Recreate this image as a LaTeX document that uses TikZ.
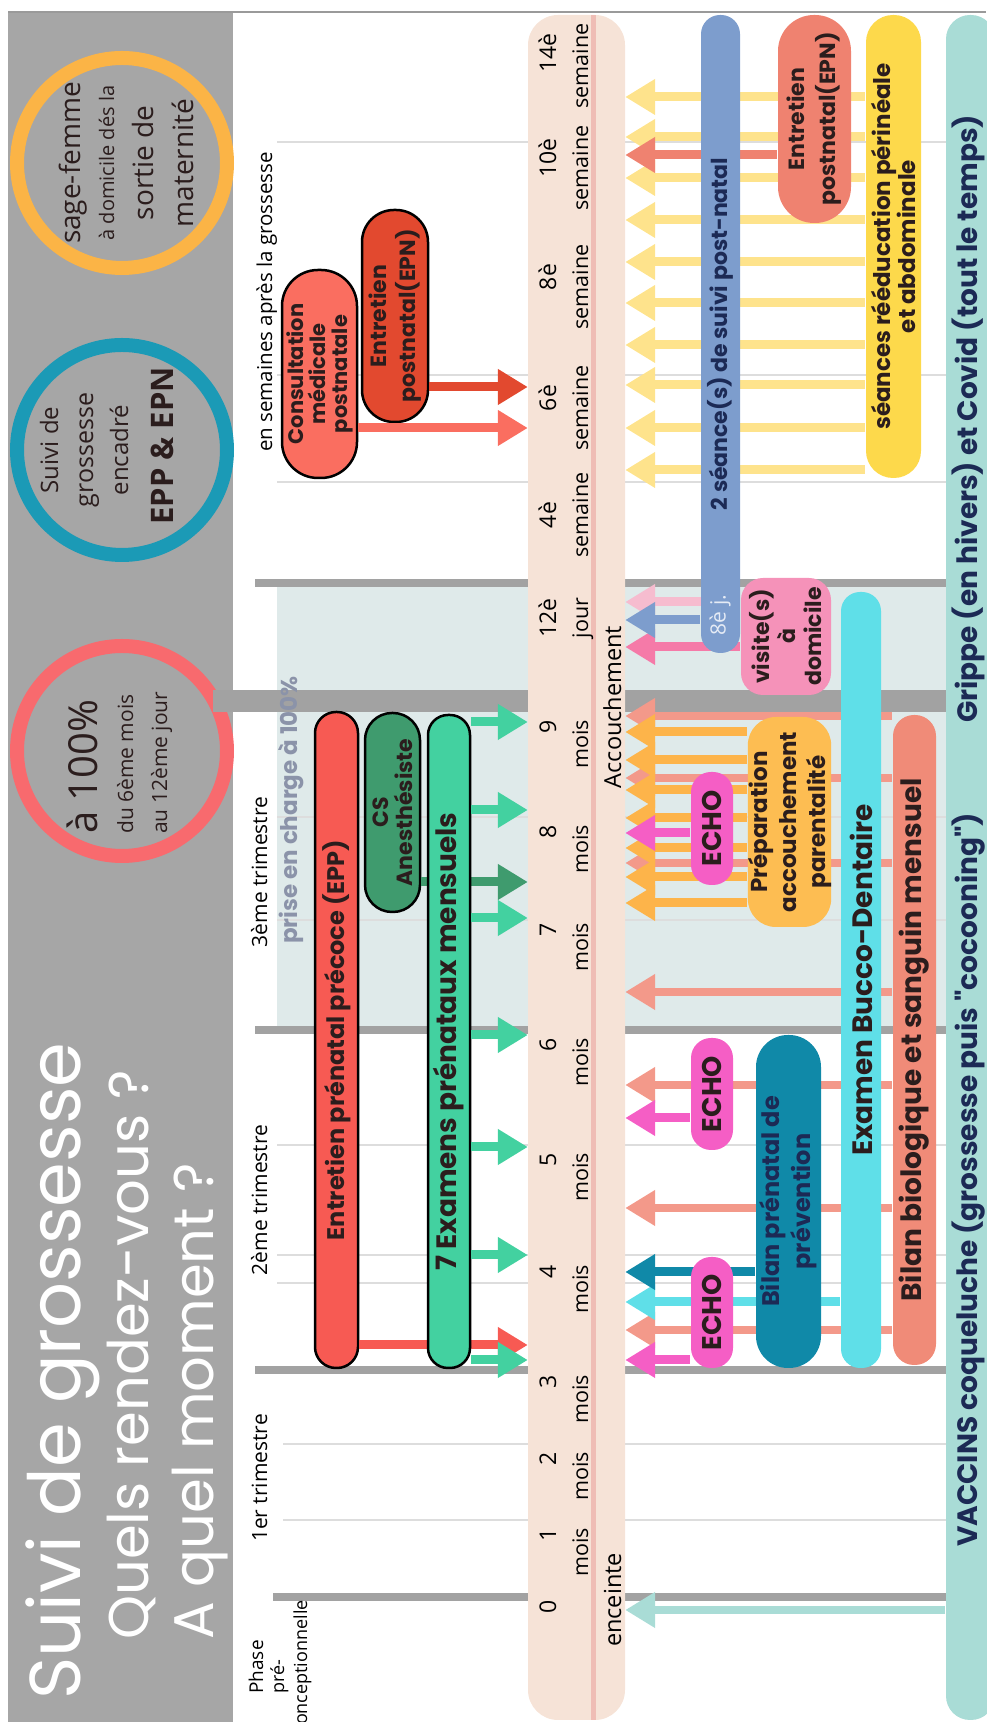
\documentclass[tikz,border=0pt]{standalone}
\usepackage{fontspec}
\setmainfont{Open Sans}
\newfontfamily\popfont{Poppins}
\usetikzlibrary{arrows.meta}

\definecolor{headgrey}{HTML}{A6A6A6}
\definecolor{framegrey}{HTML}{9A9A9A}
\definecolor{gthickc}{HTML}{A2A2A2}
\definecolor{gthinc}{HTML}{DDDDDD}
\definecolor{zonec}{HTML}{DFEAEA}
\definecolor{bandc}{HTML}{F6E3D7}
\definecolor{bandl}{HTML}{EFBDB5}
\definecolor{ringor}{HTML}{FBB446}
\definecolor{ringbl}{HTML}{1B9AB6}
\definecolor{ringrd}{HTML}{F86A6E}
\definecolor{eppc}{HTML}{F75A53}
\definecolor{csc}{HTML}{3F9B6E}
\definecolor{examc}{HTML}{43D1A0}
\definecolor{consc}{HTML}{FA6E60}
\definecolor{epnc}{HTML}{E2492F}
\definecolor{suivic}{HTML}{7D9DCD}
\definecolor{epnbc}{HTML}{EF8270}
\definecolor{reeducc}{HTML}{FDD94B}
\definecolor{reeduca}{HTML}{FEE38C}
\definecolor{visitec}{HTML}{F592B9}
\definecolor{visitea}{HTML}{F6BCCF}
\definecolor{visiteb}{HTML}{F57AA8}
\definecolor{prepc}{HTML}{FDBD52}
\definecolor{prepa}{HTML}{FDB44A}
\definecolor{echoc}{HTML}{F55EC5}
\definecolor{bppc}{HTML}{1089A8}
\definecolor{buccoc}{HTML}{5FDFE8}
\definecolor{bioc}{HTML}{F08B78}
\definecolor{bioa}{HTML}{F3998A}
\definecolor{vaccc}{HTML}{A9DCD6}
\definecolor{ink}{HTML}{2B1D1D}
\definecolor{navy}{HTML}{1C2A55}
\definecolor{pecc}{HTML}{8B93A9}

\tikzset{
  bar/.style={draw=black, line width=2.5pt, inner sep=0pt, align=center, text=ink,
    font=\popfont\bfseries\fontsize{22}{25}\selectfont},
  flatbar/.style={bar, draw=none},
  arr/.style={line width=9pt, -{Triangle[length=30pt,width=34pt]}},
  gthin/.style={draw=gthinc, line width=2pt},
  gthick/.style={draw=gthickc, line width=8pt},
  numlbl/.style={inner sep=0pt, font=\fontsize{23}{23}\selectfont},
  unitlbl/.style={inner sep=0pt, font=\fontsize{21.5}{21.5}\selectfont},
  toplbl/.style={inner sep=0pt, font=\fontsize{21}{21}\selectfont},
  ctxt/.style={inner sep=0pt, text=ink},
  headtxt/.style={inner sep=0pt, text=white, font=\popfont\fontsize{56}{56}\selectfont},
}

\begin{document}
\begin{tikzpicture}[x=1pt, y=1pt, rotate=90, transform shape]
\useasboundingbox (0,0) rectangle (1722,-986);

% zone prise en charge et grille
\fill[zonec] (692,-277) rectangle (1139,-947);
\draw[gthin] (202,-283) -- (202,-947);
\draw[gthin] (278,-283) -- (278,-947);
\draw[gthin] (439,-277) -- (439,-947);
\draw[gthin] (467,-277) -- (467,-947);
\draw[gthin] (577,-277) -- (577,-947);
\draw[gthin] (802,-277) -- (802,-947);
\draw[gthin] (905,-277) -- (905,-947);
\draw[gthin] (1240,-277) -- (1240,-947);
\draw[gthin] (1347,-277) -- (1347,-947);
\draw[gthin] (1580,-277) -- (1580,-947);
\draw[gthick] (125,-273) -- (125,-947);
\draw[gthick] (352,-255) -- (352,-947);
\draw[gthick] (692,-255) -- (692,-947);
\draw[gthick] (1139,-255) -- (1139,-947);

% bandeau du haut
\fill[headgrey] (0,-8) rectangle (1710,-233);
\draw[framegrey, line width=2pt] (1710,-8) -- (1710,-986);
\draw[ringor, line width=14pt] (1559,-122) circle[radius=105pt];
\draw[ringbl, line width=14pt] (1272,-122) circle[radius=105pt];
\draw[ringrd, line width=14pt] (971,-122) circle[radius=105pt];
\draw[gthick, line width=22pt] (1021,-213) -- (1021,-947);

\node[headtxt, anchor=base west, font=\popfont\fontsize{72}{72}\selectfont] (title) at (22,-80) {Suivi de grossesse};
\node[headtxt, anchor=base west] (sub1) at (82,-148) {Quels rendez-vous ?};
\node[headtxt, anchor=base west] (sub2) at (82,-213) {A quel moment ?};

\node[ctxt, anchor=base, font=\fontsize{28}{28}\selectfont] (sf1) at (1559,-80) {sage-femme};
\node[ctxt, anchor=base, font=\fontsize{20}{20}\selectfont] (sf2) at (1559,-114) {à domicile dés la};
\node[ctxt, anchor=base, font=\fontsize{28}{28}\selectfont] (sf3) at (1559,-153) {sortie de};
\node[ctxt, anchor=base, font=\fontsize{28}{28}\selectfont] (sf4) at (1559,-193) {maternité};

\node[ctxt, anchor=base, font=\fontsize{24}{24}\selectfont] (bl1) at (1272,-58) {Suivi de};
\node[ctxt, anchor=base, font=\fontsize{25}{25}\selectfont] (bl2) at (1272,-93) {grossesse};
\node[ctxt, anchor=base, font=\fontsize{24}{24}\selectfont] (bl3) at (1272,-128) {encadré};
\node[ctxt, anchor=base, font=\bfseries\fontsize{31}{31}\selectfont] (bl4) at (1276,-173) {EPP \& EPN};

\node[ctxt, anchor=base west, font=\fontsize{40}{40}\selectfont] (rd1) at (888,-97) {à 100\%};
\node[ctxt, anchor=base west, font=\fontsize{21}{21}\selectfont] (rd2) at (888,-133) {du 6ème mois};
\node[ctxt, anchor=base west, font=\fontsize{21}{21}\selectfont] (rd3) at (888,-167) {au 12ème jour};

% titres au-dessus de la frise
\node[toplbl, anchor=base, font=\fontsize{19}{19}\selectfont] (ph1) at (55,-263) {Phase};
\node[toplbl, anchor=base, font=\fontsize{18}{18}\selectfont] (ph2) at (45,-284) {pré-};
\node[toplbl, anchor=base east, font=\fontsize{18}{18}\selectfont] (ph3) at (122,-307) {conceptionnelle};
\node[toplbl, anchor=base] (tri1) at (244,-267) {1er trimestre};
\node[toplbl, anchor=base] (tri2) at (522,-267) {2ème trimestre};
\node[toplbl, anchor=base] (tri3) at (850,-267) {3ème trimestre};
\node[toplbl, anchor=base, text=pecc, font=\popfont\bfseries\fontsize{23}{23}\selectfont] (pec) at (912,-297) {prise en charge à 100\%};
\node[toplbl, anchor=base, font=\fontsize{20.5}{20.5}\selectfont] (apres) at (1420,-272) {en semaines après la grossesse};

% frise
\node[fill=bandc, rounded corners=30pt, minimum width=1705pt, minimum height=97pt] (band) at (854.5,-576.5) {};
\draw[bandl, line width=5pt] (2,-593) -- (1707,-593);

\node[numlbl, anchor=base east] (m0) at (122,-556) {0};
\node[numlbl, anchor=base east] (m1) at (194,-556) {1};
\node[unitlbl, anchor=base east] (u1) at (194,-588) {mois};
\node[numlbl, anchor=base east] (m2) at (270,-556) {2};
\node[unitlbl, anchor=base east] (u2) at (270,-588) {mois};
\node[numlbl, anchor=base east] (m3) at (347,-556) {3};
\node[unitlbl, anchor=base east] (u3) at (347,-588) {mois};
\node[numlbl, anchor=base east] (m4) at (457,-556) {4};
\node[unitlbl, anchor=base east] (u4) at (457,-588) {mois};
\node[numlbl, anchor=base east] (m5) at (569,-556) {5};
\node[unitlbl, anchor=base east] (u5) at (569,-588) {mois};
\node[numlbl, anchor=base east] (m6) at (684,-556) {6};
\node[unitlbl, anchor=base east] (u6) at (684,-588) {mois};
\node[numlbl, anchor=base east] (m7) at (799,-556) {7};
\node[unitlbl, anchor=base east] (u7) at (799,-588) {mois};
\node[numlbl, anchor=base east] (m8) at (897,-556) {8};
\node[unitlbl, anchor=base east] (u8) at (897,-588) {mois};
\node[numlbl, anchor=base east] (m9) at (1002,-556) {9};
\node[unitlbl, anchor=base east] (u9) at (1002,-588) {mois};

\node[numlbl, anchor=base] (w0) at (1104,-556) {12è};
\node[unitlbl, anchor=base] (v0) at (1104,-588) {jour};
\node[numlbl, anchor=base] (w4) at (1207,-556) {4è};
\node[unitlbl, anchor=base] (v4) at (1207,-588) {semaine};
\node[numlbl, anchor=base] (w6) at (1324,-556) {6è};
\node[unitlbl, anchor=base] (v6) at (1314,-588) {semaine};
\node[numlbl, anchor=base] (w8) at (1445,-556) {8è};
\node[unitlbl, anchor=base] (v8) at (1435,-588) {semaine};
\node[numlbl, anchor=base] (w10) at (1564,-556) {10è};
\node[unitlbl, anchor=base] (v10) at (1554,-588) {semaine};
\node[numlbl, anchor=base] (w14) at (1669,-556) {14è};
\node[unitlbl, anchor=base] (v14) at (1656,-588) {semaine};

\node[unitlbl, anchor=base, font=\fontsize{23.5}{23.5}\selectfont] (enc) at (122,-621) {enceinte};
\node[unitlbl, anchor=base, font=\fontsize{23.5}{23.5}\selectfont] (acc) at (1015,-621) {Accouchement};

% rendez-vous avant la frise
\node[bar, fill=eppc, rounded corners=21pt, minimum width=656pt, minimum height=43pt, font=\popfont\bfseries\fontsize{24}{24}\selectfont] (epp) at (682,-336.5) {Entretien prénatal précoce (EPP)};
\node[bar, fill=csc, rounded corners=27pt, minimum width=199pt, minimum height=55pt, font=\popfont\bfseries\fontsize{22}{24}\selectfont] (csan) at (909.5,-392.5) {CS\\Anesthésiste};
\draw[arr, eppc] (epp.south -| 377,0) -- (band.north -| 377,0);
\draw[arr, csc] (csan.south -| 840,0) -- (band.north -| 840,0);

\node[bar, fill=examc, rounded corners=20pt, minimum width=653pt, minimum height=42pt, font=\popfont\bfseries\fontsize{28}{28}\selectfont] (exam) at (680.5,-449) {7 Examens prénataux mensuels};
\node[bar, fill=consc, rounded corners=36pt, minimum width=208pt, minimum height=75pt, font=\popfont\bfseries\fontsize{21}{22}\selectfont] (cons) at (1348,-319.5) {Consultation\\médicale\\postnatale};
\node[bar, fill=epnc, rounded corners=32pt, minimum width=212pt, minimum height=66pt, font=\popfont\bfseries\fontsize{22}{29}\selectfont] (epna) at (1406,-395) {Entretien\\postnatal(EPN)};

\draw[arr, examc] (exam.south -| 362,0) -- (band.north -| 362,0);
\draw[arr, examc] (exam.south -| 467,0) -- (band.north -| 467,0);
\draw[arr, examc] (exam.south -| 575,0) -- (band.north -| 575,0);
\draw[arr, examc] (exam.south -| 687,0) -- (band.north -| 687,0);
\draw[arr, examc] (exam.south -| 804,0) -- (band.north -| 804,0);
\draw[arr, examc] (exam.south -| 912,0) -- (band.north -| 912,0);
\draw[arr, examc] (exam.south -| 1000,0) -- (band.north -| 1000,0);
\draw[arr, consc] (cons.south -| 1294,0) -- (band.north -| 1294,0);
\draw[arr, epnc] (epna.south -| 1335,0) -- (band.north -| 1335,0);

% rendez-vous sous la frise
\node[flatbar, fill=vaccc, rounded corners=24pt, minimum width=1705pt, minimum height=49pt] (vacc) at (854.5,-970.5) {};
\node[inner sep=0pt, anchor=base west, text=navy, font=\popfont\bfseries\fontsize{28}{28}\selectfont] (vac1) at (175,-977) {VACCINS coqueluche (grossesse puis "cocooning")};
\node[inner sep=0pt, anchor=base west, text=navy, font=\popfont\bfseries\fontsize{28}{28}\selectfont] (vac2) at (999,-977) {Grippe (en hivers) et Covid (tout le temps)};
\draw[arr, vaccc, line width=8pt] (vacc.north -| 112,0) -- (band.south -| 112,0);

\node[flatbar, fill=bioc, rounded corners=21pt, minimum width=650pt, minimum height=43pt, font=\popfont\bfseries\fontsize{28}{28}\selectfont] (bio) at (682,-914.5) {Bilan biologique et sanguin mensuel};
\draw[arr, bioa, line width=8pt] (bio.north -| 392,0) -- (band.south -| 392,0);
\draw[arr, bioa, line width=8pt] (bio.north -| 514,0) -- (band.south -| 514,0);
\draw[arr, bioa, line width=8pt] (bio.north -| 637,0) -- (band.south -| 637,0);
\draw[arr, bioa, line width=8pt] (bio.north -| 730,0) -- (band.south -| 730,0);
\draw[arr, bioa, line width=8pt] (bio.north -| 859,0) -- (band.south -| 859,0);
\draw[arr, bioa, line width=8pt] (bio.north -| 944,0) -- (band.south -| 944,0);
\draw[arr, bioa, line width=8pt] (bio.north -| 1006,0) -- (band.south -| 1006,0);

\node[flatbar, fill=reeducc, rounded corners=27pt, minimum width=463pt, minimum height=55pt, font=\popfont\bfseries\fontsize{23}{25}\selectfont] (reeduc) at (1475.5,-893.5) {séances rééducation périnéale\\et abdominale};
\draw[arr, reeduca] (reeduc.north -| 1252,0) -- (band.south -| 1252,0);
\draw[arr, reeduca] (reeduc.north -| 1294,0) -- (band.south -| 1294,0);
\draw[arr, reeduca] (reeduc.north -| 1337,0) -- (band.south -| 1337,0);
\draw[arr, reeduca] (reeduc.north -| 1377,0) -- (band.south -| 1377,0);
\draw[arr, reeduca] (reeduc.north -| 1419,0) -- (band.south -| 1419,0);
\draw[arr, reeduca] (reeduc.north -| 1460,0) -- (band.south -| 1460,0);
\draw[arr, reeduca] (reeduc.north -| 1502,0) -- (band.south -| 1502,0);
\draw[arr, reeduca] (reeduc.north -| 1544,0) -- (band.south -| 1544,0);
\draw[arr, reeduca] (reeduc.north -| 1585,0) -- (band.south -| 1585,0);
\draw[arr, reeduca] (reeduc.north -| 1625,0) -- (band.south -| 1625,0);

\node[flatbar, fill=epnbc, rounded corners=36pt, minimum width=208pt, minimum height=73pt, font=\popfont\bfseries\fontsize{22}{31}\selectfont] (epnb) at (1603,-814.5) {Entretien\\postnatal(EPN)};
\draw[arr, epnbc] (epnb.north -| 1567,0) -- (band.south -| 1567,0);

\node[flatbar, fill=buccoc, rounded corners=19pt, minimum width=776pt, minimum height=40pt, font=\popfont\bfseries\fontsize{28}{28}\selectfont] (bucco) at (742,-861) {Examen Bucco-Dentaire};
\draw[arr, buccoc] (bucco.north -| 420,0) -- (band.south -| 420,0);

\node[flatbar, fill=bppc, rounded corners=32pt, minimum width=333pt, minimum height=65pt, text=navy, font=\popfont\bfseries\fontsize{24}{31}\selectfont] (bpp) at (520.5,-788.5) {Bilan prénatal de\\prévention};
\draw[arr, bppc] (bpp.north -| 450,0) -- (band.south -| 450,0);

\node[flatbar, fill=prepc, rounded corners=28pt, minimum width=210pt, minimum height=83pt, font=\popfont\bfseries\fontsize{23}{29}\selectfont] (prep) at (900,-789.5) {Préparation\\accouchement\\parentalité};
\draw[arr, prepa] (prep.north -| 819,0) -- (band.south -| 819,0);
\draw[arr, prepa] (prep.north -| 845,0) -- (band.south -| 845,0);
\draw[arr, prepa] (prep.north -| 874,0) -- (band.south -| 874,0);
\draw[arr, prepa] (prep.north -| 904,0) -- (band.south -| 904,0);
\draw[arr, prepa] (prep.north -| 932,0) -- (band.south -| 932,0);
\draw[arr, prepa] (prep.north -| 962,0) -- (band.south -| 962,0);
\draw[arr, prepa] (prep.north -| 990,0) -- (band.south -| 990,0);

\node[flatbar, fill=visitec, rounded corners=22pt, minimum width=117pt, minimum height=90pt, font=\popfont\bfseries\fontsize{22}{26}\selectfont] (visite) at (1085.5,-786) {visite(s)\\à\\domicile};
\draw[arr, visitea] (visite.north -| 1120,0) -- (band.south -| 1120,0);
\draw[arr, visiteb] (visite.north -| 1075,0) -- (band.south -| 1075,0);

\node[flatbar, fill=echoc, rounded corners=20pt, minimum width=111pt, minimum height=42pt, font=\popfont\bfseries\fontsize{27}{27}\selectfont] (echoa) at (409.5,-712) {ECHO};
\node[flatbar, fill=echoc, rounded corners=20pt, minimum width=112pt, minimum height=42pt, font=\popfont\bfseries\fontsize{27}{27}\selectfont] (echob) at (628,-712) {ECHO};
\node[flatbar, fill=echoc, rounded corners=20pt, minimum width=113pt, minimum height=42pt, font=\popfont\bfseries\fontsize{27}{27}\selectfont] (echoc) at (893.5,-712) {ECHO};
\draw[arr, echoc] (echoa.north -| 362,0) -- (band.south -| 362,0);
\draw[arr, echoc] (echob.north -| 604,0) -- (band.south -| 604,0);
\draw[arr, echoc] (echoc.north -| 889,0) -- (band.south -| 889,0);

\node[flatbar, fill=suivic, rounded corners=19pt, minimum width=638pt, minimum height=39pt, text=navy] (suivi) at (1388,-720.5) {2 séance(s) de suivi post-natal};
\draw[arr, suivic] (suivi.north -| 1102,0) -- (band.south -| 1102,0);
\node[inner sep=0pt, text=white!80!suivic, font=\fontsize{21}{21}\selectfont] (huit) at (1107,-720) {8è j.};

\end{tikzpicture}
\end{document}
